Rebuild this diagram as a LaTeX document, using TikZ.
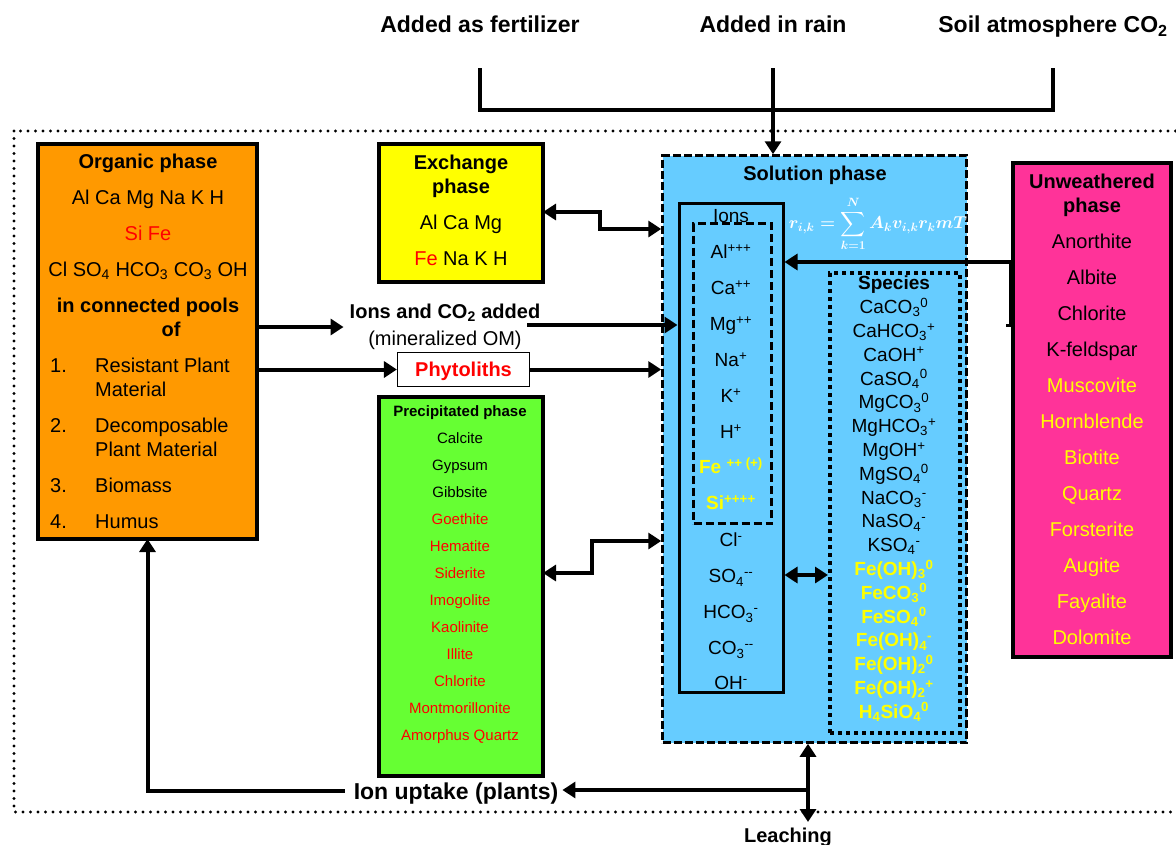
\documentclass[tikz,border=0pt]{standalone}
\usepackage{amsmath}
\usepackage{fontspec}
\setmainfont{Liberation Sans}
\usetikzlibrary{arrows.meta}
\definecolor{orgC}{HTML}{FF9900}
\definecolor{exC}{HTML}{FFFF00}
\definecolor{prC}{HTML}{66FF33}
\definecolor{soC}{HTML}{66CCFF}
\definecolor{unC}{HTML}{FF3399}
\definecolor{redC}{HTML}{FF0000}
\definecolor{yelC}{HTML}{FFFF00}
\newcommand{\Lsub}[1]{\textsubscript{#1}}
\newcommand{\Lsup}[1]{\textsuperscript{#1}}
\newcommand{\FSZ}[1]{\fontsize{#1}{#1}\selectfont}
\newcommand{\RateEq}{{\boldmath$\displaystyle \boldsymbol{r_{i,k}=\sum_{k=1}^{N}A_k v_{i,k} r_k m T}$}}
\begin{document}
\begin{tikzpicture}[x=1pt,y=-1pt,
  t20/.style={inner sep=0pt,font=\FSZ{20},text height=17.2pt,text depth=2.8pt},
  b20/.style={t20,font=\FSZ{20}\bfseries},
  t19/.style={inner sep=0pt,font=\FSZ{19},text height=16.3pt,text depth=2.7pt},
  b19/.style={t19,font=\FSZ{19}\bfseries},
  t15/.style={inner sep=0pt,font=\FSZ{15},text height=12.9pt,text depth=2.1pt},
  b15/.style={t15,font=\FSZ{15}\bfseries},
  b23/.style={inner sep=0pt,font=\FSZ{23}\bfseries,text height=19.8pt,text depth=3.2pt},
  phasebox/.style={draw=black,line width=4pt,inner sep=0pt,outer sep=0pt},
  arr/.style={line width=4pt,-{Triangle[length=13pt,width=16pt]}},
  darr/.style={line width=4pt,{Triangle[length=13pt,width=16pt]}-{Triangle[length=13pt,width=16pt]}},
  bracketline/.style={line width=4pt},
]
\useasboundingbox (0,0) rectangle (1176,844);
\clip (0,0) rectangle (1176,844);
\fill[white] (0,0) rectangle (1176,844);

% outer dotted frame
\draw[line width=3.2pt,dash pattern=on 0pt off 7.5pt,line cap=round] (14,131) rectangle (1200,812);

% boxes
\node[phasebox,fill=orgC,minimum width=219pt,minimum height=395pt] (org) at (147.5,341.5) {};
\node[phasebox,fill=exC,minimum width=164pt,minimum height=138pt] (exch) at (461,213) {};
\node[phasebox,fill=prC,minimum width=164pt,minimum height=379pt] (prec) at (461,586.5) {};
\node[draw=black,line width=2.5pt,dash pattern=on 8pt off 3pt,fill=soC,minimum width=304pt,minimum height=587pt,inner sep=0pt] (sol) at (814.5,449) {};
\node[draw=black,line width=3pt,minimum width=104pt,minimum height=489pt,inner sep=0pt] (ionsbox) at (731,447.5) {};
\node[draw=black,line width=3pt,dash pattern=on 8pt off 4pt,minimum width=78pt,minimum height=300pt,inner sep=0pt] (ionsin) at (732.5,373.5) {};
\node[draw=black,line width=4pt,dash pattern=on 4pt off 4pt,minimum width=130pt,minimum height=460pt,inner sep=0pt] (spec) at (895,503) {};
\node[phasebox,fill=unC,minimum width=158pt,minimum height=494pt] (unw) at (1092,410) {};
\node[draw=black,line width=1.2pt,fill=white,minimum width=132pt,minimum height=34pt,b20,text=redC] (phyto) at (463.5,369.5) {Phytoliths};

% top labels and bracket
\node[b23] (tf) at (480,24) {Added as fertilizer};
\node[b23] (tr) at (773,24) {Added in rain};
\node[b23] (tc) at (1053,24) {Soil atmosphere CO\Lsub{2}};
\draw[bracketline] (tf.south |- 0,68) -- (tf.south |- 0,110) -- (tc.south |- 0,110) -- (tc.south |- 0,68);
\draw[arr] (tr.south |- 0,68) -- (tr.south |- sol.north);

% organic -> ions added
\node[b20] (ionsadd) at (445,311) {Ions and CO\Lsub{2} added};
\node[t20] (minom) at (445,338) {(mineralized OM)};
\draw[arr,shorten >=6pt] (org.east |- 0,327) -- (ionsadd.west |- 0,327);
\coordinate (iae) at ([xshift=-13pt,yshift=-14pt]ionsadd.east);
\draw[arr] (iae) -- (ionsbox.west |- iae);

% phytoliths
\draw[arr] (org.east |- phyto.west) -- (phyto.west);
\draw[arr] (phyto.east) -- (sol.west |- phyto.east);

% exchange <-> solution
\draw[darr] (exch.east |- 0,212) -- ++(57,0) |- (sol.west |- 0,229);
% precipitated <-> solution
\draw[darr] (prec.east |- 0,573) -- ++(49,0) |- (sol.west |- 0,541);
% unweathered -> ions
\draw[arr] (unw.west |- 0,262) -- (ionsbox.east |- 0,262);
\coordinate (stubtop) at ([xshift=-3pt]unw.west |- 0,262);
\draw[line width=3pt] (stubtop) -- (stubtop |- 0,325) -- ++(-4,0);
% ions <-> species
\draw[darr] (ionsbox.east |- 0,575) -- (spec.west |- 0,575);

% bottom
\node[b23] (up) at (456,791) {Ion uptake (plants)};
\node[b20] (leach) at (788,835) {Leaching};
\coordinate (lkbot) at (808,822);
\coordinate (lk) at (808,790);
\coordinate (upe) at ([xshift=4pt]up.east);
\draw[darr] (lkbot) -- (lkbot |- sol.south);
\draw[arr] (lk) -- (upe |- lk);
\coordinate (upw) at ([xshift=-9pt]up.west);
\draw[arr] (upw) -| (org.south);

% organic phase text
\node[b20] (o1) at (148,161) {Organic phase};
\node[t20] (o2) at (148,197) {Al Ca Mg Na K H};
\node[t20,text=redC] (o3) at (148,233) {Si Fe};
\node[t20] (o4) at (148,269) {Cl SO\Lsub{4} HCO\Lsub{3} CO\Lsub{3} OH};
\node[b20] (o5) at (148,305) {in connected pools};
\node[b20] (o6) at (171,329) {of};
\node[t20,anchor=west] (n1) at (50,365) {1.};
\node[t20,anchor=west] (i1a) at (95,365) {Resistant Plant};
\node[t20,anchor=west] (i1b) at (95,389) {Material};
\node[t20,anchor=west] (n2) at (50,425) {2.};
\node[t20,anchor=west] (i2a) at (95,425) {Decomposable};
\node[t20,anchor=west] (i2b) at (95,449) {Plant Material};
\node[t20,anchor=west] (n3) at (50,485) {3.};
\node[t20,anchor=west] (i3) at (95,485) {Biomass};
\node[t20,anchor=west] (n4) at (50,521) {4.};
\node[t20,anchor=west] (i4) at (95,521) {Humus};

% exchange text
\node[b20] (e1) at (461,162) {Exchange};
\node[b20] (e2) at (461,186) {phase};
\node[t20] (e3) at (461,222) {Al Ca Mg};
\node[t20] (e4) at (461,258) {\textcolor{redC}{Fe} Na K H};

% solution
\node[b20] (s1) at (815,173) {Solution phase};
\node[text=white,inner sep=0pt,font=\FSZ{17}] (eq) at (878,224) {\RateEq};

% ions
\node[t19] (ionsT) at (731,216) {Ions};
\foreach \yy/\tx [count=\i] in {252/{Al\Lsup{+++}},288/{Ca\Lsup{++}},324/{Mg\Lsup{++}},360/{Na\Lsup{+}},396/{K\Lsup{+}},432/{H\Lsup{+}},540/{Cl\Lsup{-}},576/{SO\Lsub{4}\Lsup{-{}-}},612/{HCO\Lsub{3}\Lsup{-}},648/{CO\Lsub{3}\Lsup{-{}-}},683/{OH\Lsup{-}}}
  \node[t19] (ion\i) at (731,\yy) {\tx};
\node[b19,text=yelC] (ionFe) at (731,467) {Fe \Lsup{++ (+)}};
\node[b19,text=yelC] (ionSi) at (731,503) {Si\Lsup{++++}};

% species
\node[b19] (spT) at (894,283) {Species};
\foreach \tx [count=\i] in {{CaCO\Lsub{3}\Lsup{0}},{CaHCO\Lsub{3}\Lsup{+}},{CaOH\Lsup{+}},{CaSO\Lsub{4}\Lsup{0}},{MgCO\Lsub{3}\Lsup{0}},{MgHCO\Lsub{3}\Lsup{+}},{MgOH\Lsup{+}},{MgSO\Lsub{4}\Lsup{0}},{NaCO\Lsub{3}\Lsup{-}},{NaSO\Lsub{4}\Lsup{-}},{KSO\Lsub{4}\Lsup{-}}}
  \node[t19] (sp\i) at (894,283+23.8*\i) {\tx};
\foreach \tx [count=\i from 12] in {{Fe(OH)\Lsub{3}\Lsup{0}},{FeCO\Lsub{3}\Lsup{0}},{FeSO\Lsub{4}\Lsup{0}},{Fe(OH)\Lsub{4}\Lsup{-}},{Fe(OH)\Lsub{2}\Lsup{0}},{Fe(OH)\Lsub{2}\Lsup{+}},{H\Lsub{4}SiO\Lsub{4}\Lsup{0}}}
  \node[b19,text=yelC] (sp\i) at (894,283+23.8*\i) {\tx};

% unweathered
\node[b20] (u1) at (1092,181) {Unweathered};
\node[b20] (u2) at (1092,205) {phase};
\foreach \tx [count=\i] in {Anorthite,Albite,Chlorite,K-feldspar}
  \node[t20] (uw\i) at (1092,205+36*\i) {\tx};
\foreach \tx [count=\i from 5] in {Muscovite,Hornblende,Biotite,Quartz,Forsterite,Augite,Fayalite,Dolomite}
  \node[t20,text=yelC] (uw\i) at (1092,205+36*\i) {\tx};

% precipitated
\node[b15] (p0) at (460,411) {Precipitated phase};
\foreach \tx [count=\i] in {Calcite,Gypsum,Gibbsite}
  \node[t15] (pr\i) at (460,411+27*\i) {\tx};
\foreach \tx [count=\i from 4] in {Goethite,Hematite,Siderite,Imogolite,Kaolinite,Illite,Chlorite,Montmorillonite,Amorphus Quartz}
  \node[t15,text=redC] (pr\i) at (460,411+27*\i) {\tx};
\end{tikzpicture}
\end{document}
